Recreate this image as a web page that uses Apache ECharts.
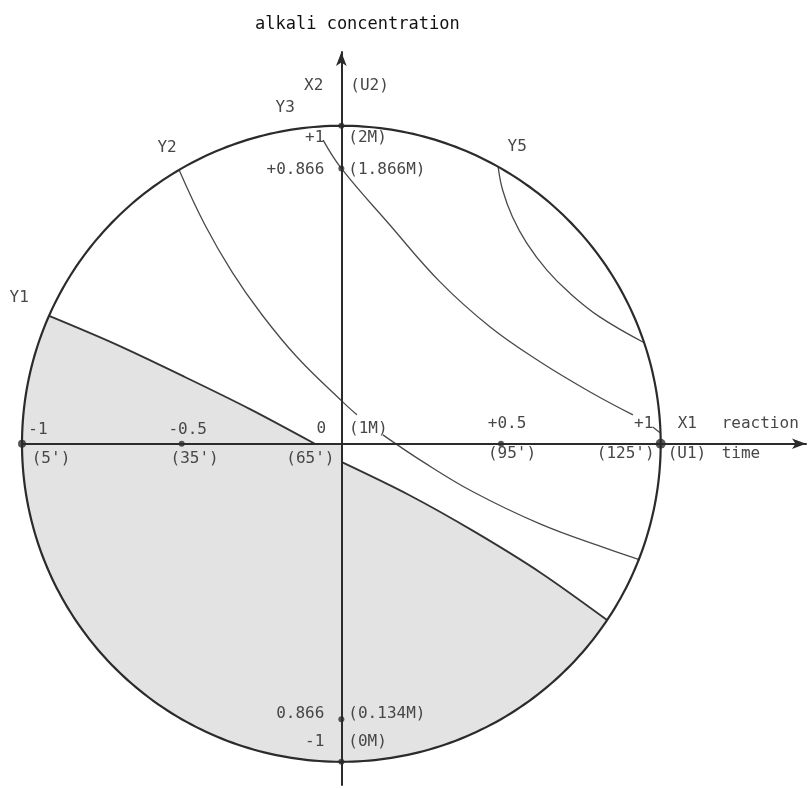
<!DOCTYPE html>
<html>
<head>
<meta charset="utf-8">
<script src="https://cdn.jsdelivr.net/npm/echarts@6/dist/echarts.min.js"></script>
<style>
  html, body { margin: 0; padding: 0; background: #fff; }
  #chart { width: 808px; height: 789px; }
</style>
</head>
<body>
<div id="chart"></div>
<script>
// ---- Coded factor levels ----
// X1: reaction time, X2: alkali concentration
const x1Levels = [-1, -0.5, 0, 0.5, 1];
const x1LevelLabels = ['-1', '-0.5', '0', '+0.5', '+1'];
const reactionTimes = ["(5')", "(35')", "(65')", "(95')", "(125')"];
const x2Levels = [1, 0.866, -0.866, -1];
const x2LevelLabels = ['+1', '+0.866', '0.866', '-1'];
const alkaliConc = ['(2M)', '(1.866M)', '(0.134M)', '(0M)'];
const centreConc = '(1M)';
const x1AxisNames = ['X1', 'reaction', '(U1)', 'time'];
const x2AxisNames = ['X2', '(U2)'];

// Experimental points marked on the axes
const designPoints = [[-1, 0], [-0.5, 0], [0.5, 0], [1, 0], [0, 1], [0, 0.866], [0, -0.866], [0, -1]];

// Response contours in coded units (null = break for a label)
const contourNames = ['Y1', 'Y2', 'Y3', 'Y5'];
const y1ContourLeft = [
  [-0.915, 0.402], [-0.709, 0.314], [-0.490, 0.210], [-0.286, 0.109], [-0.083, 0]
];
const y1ContourRight = [
  [0, -0.057], [0.212, -0.161], [0.418, -0.277], [0.625, -0.406], [0.832, -0.554]
];
const y2Contour = [
  [-0.508, 0.861], [-0.427, 0.688], [-0.342, 0.540], [-0.248, 0.405], [-0.139, 0.273],
  [0.005, 0.131], [0.049, 0.091],
  null,
  [0.130, 0.028], [0.256, -0.057], [0.412, -0.151], [0.622, -0.252], [0.832, -0.330], [0.935, -0.365]
];
const y3Contour = [
  [-0.057, 0.955], [0, 0.866], [0.152, 0.688], [0.309, 0.509], [0.465, 0.368], [0.622, 0.258],
  [0.779, 0.163], [0.913, 0.091],
  null,
  [0.975, 0.053], [0.999, 0.034]
];
const y5Contour = [
  [0.491, 0.871], [0.505, 0.798], [0.536, 0.713], [0.580, 0.632], [0.643, 0.547],
  [0.715, 0.474], [0.809, 0.399], [0.950, 0.317]
];

// ---- Styling / layout ----
const FONT = '16px "DejaVu Sans Mono", monospace';
const INK = '#2b2b2b';
const TEXT = '#474747';
const dotSizes = [8, 6, 6, 10, 6, 6, 6, 6];

const x1LabelLayout = [[16, -14], [6, -14], [-20, -15], [6, -20], [-17, -20]];
const timeLabelLayout = [[29, 15], [13, 15], [-31, 15], [11, 10], [-35, 10]];
const x2LabelDy = [12, 1, -5, -20];

// build the text annotations from the arrays above
const labelItems = [];
x1Levels.forEach((v, i) => {
  labelItems.push({ at: [v, 0], text: x1LevelLabels[i], dx: x1LabelLayout[i][0], dy: x1LabelLayout[i][1], align: 'center' });
  labelItems.push({ at: [v, 0], text: reactionTimes[i], dx: timeLabelLayout[i][0], dy: timeLabelLayout[i][1], align: 'center' });
});
labelItems.push({ at: [0, 0], text: centreConc, dx: 27, dy: -15, align: 'center' });
x2Levels.forEach((v, i) => {
  labelItems.push({ at: [0, v], text: x2LevelLabels[i], dx: -17, dy: x2LabelDy[i], align: 'right' });
  labelItems.push({ at: [0, v], text: alkaliConc[i], dx: 7, dy: x2LabelDy[i], align: 'left' });
});
labelItems.push({ at: [1, 0], text: x1AxisNames[0], dx: 17, dy: -20, align: 'left' });
labelItems.push({ at: [1, 0], text: x1AxisNames[1], dx: 61, dy: -20, align: 'left' });
labelItems.push({ at: [1, 0], text: x1AxisNames[2], dx: 7, dy: 10, align: 'left' });
labelItems.push({ at: [1, 0], text: x1AxisNames[3], dx: 61, dy: 10, align: 'left' });
labelItems.push({ at: [0, 1], text: x2AxisNames[0], dx: -18, dy: -40, align: 'right' });
labelItems.push({ at: [0, 1], text: x2AxisNames[1], dx: 9, dy: -40, align: 'left' });
const contourStarts = [y1ContourLeft[0], y2Contour[0], y3Contour[0], y5Contour[0]];
const contourLabelLayout = [[-30, -18], [-12, -22], [-38, -32], [19, -20]];
contourNames.forEach((name, i) => {
  labelItems.push({ at: contourStarts[i], text: name, dx: contourLabelLayout[i][0], dy: contourLabelLayout[i][1], align: 'center' });
});

// split a contour into drawable pieces at the null breaks
function segments(arr) {
  const out = [[]];
  arr.forEach(p => { if (p === null) out.push([]); else out[out.length - 1].push(p); });
  return out.filter(s => s.length > 1);
}

function contourSeries(arr, width, color, smooth) {
  return segments(arr).map(seg => ({
    type: 'line', data: seg, smooth: smooth, showSymbol: false, symbol: 'none', silent: true,
    lineStyle: { color: color, width: width }, z: 4, animation: false
  }));
}

const chart = echarts.init(document.getElementById('chart'), null, { renderer: 'canvas' });

const axisCommon = {
  type: 'value',
  axisLine: {
    show: true, onZero: true, symbol: ['none', 'arrow'], symbolSize: [8, 14],
    lineStyle: { color: INK, width: 2 }
  },
  axisTick: { show: false },
  axisLabel: { show: false },
  splitLine: { show: false },
  z: 10
};

const option = {
  backgroundColor: '#fff',
  animation: false,
  title: {
    text: 'alkali concentration',
    left: 250, top: 11,
    textStyle: { fontFamily: '"DejaVu Sans Mono", monospace', fontSize: 17, fontWeight: 'normal', color: '#111' }
  },
  grid: { left: 22, right: 2, top: 52, bottom: 4 },
  xAxis: Object.assign({}, axisCommon, { min: -1, max: 1.455 }),
  yAxis: Object.assign({}, axisCommon, { min: -1.073, max: 1.232 }),
  series: [
    // shaded region: below the Y1 contour (which turns along the axes at the origin), inside the circle
    {
      type: 'custom', silent: true, z: 1, clip: false,
      data: [[0, 0]],
      renderItem: function (params, api) {
        const boundary = y1ContourLeft.concat([[0, 0]], y1ContourRight);
        const pts = boundary.map(p => api.coord(p));
        const first = boundary[0], last = boundary[boundary.length - 1];
        const a0 = Math.atan2(last[1], last[0]);
        let a1 = Math.atan2(first[1], first[0]);
        if (a1 > a0) a1 -= 2 * Math.PI;
        const n = 160;
        for (let i = 1; i < n; i++) {
          const a = a0 + (a1 - a0) * i / n;
          pts.push(api.coord([Math.cos(a), Math.sin(a)]));
        }
        return { type: 'polygon', shape: { points: pts }, style: { fill: '#e3e3e3', stroke: null } };
      }
    },
    // experimental region boundary (unit circle)
    {
      type: 'custom', silent: true, z: 5, clip: false,
      data: [[0, 0]],
      renderItem: function (params, api) {
        const pts = [];
        for (let i = 0; i < 360; i++) {
          const a = i * Math.PI / 180;
          pts.push(api.coord([Math.cos(a), Math.sin(a)]));
        }
        return { type: 'polygon', shape: { points: pts }, style: { fill: null, stroke: INK, lineWidth: 2.2 } };
      }
    },
    ...contourSeries(y1ContourLeft, 1.8, '#333', 0.3),
    ...contourSeries(y1ContourRight, 1.8, '#333', 0.3),
    ...contourSeries(y2Contour, 1.3, '#4a4a4a', 0.4),
    ...contourSeries(y3Contour, 1.3, '#4a4a4a', 0.4),
    ...contourSeries(y5Contour, 1.3, '#4a4a4a', 0.4),
    // design points
    {
      type: 'scatter', silent: true, z: 11,
      data: designPoints,
      symbol: 'circle',
      symbolSize: function (val, params) { return dotSizes[params.dataIndex]; },
      itemStyle: { color: INK }
    },
    // text annotations
    {
      type: 'custom', silent: true, z: 12, clip: false,
      data: labelItems.map(l => l.at),
      renderItem: function (params, api) {
        const l = labelItems[params.dataIndex];
        const p = api.coord(l.at);
        return {
          type: 'text',
          x: p[0] + l.dx, y: p[1] + l.dy,
          style: { text: l.text, font: FONT, fill: TEXT, align: l.align, verticalAlign: 'middle' }
        };
      }
    }
  ]
};

chart.setOption(option);
</script>
</body>
</html>
